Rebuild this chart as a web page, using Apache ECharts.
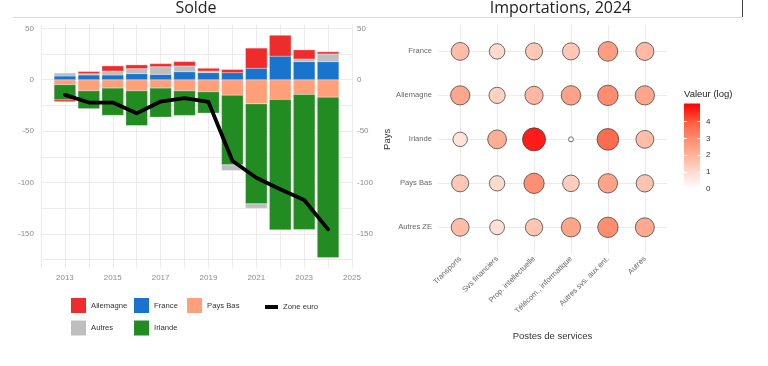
<!DOCTYPE html>
<html><head><meta charset="utf-8">
<script src="https://cdn.jsdelivr.net/npm/echarts@6/dist/echarts.min.js"></script>
<style>html,body{margin:0;padding:0;background:#fff}#c{width:768px;height:366px}</style>
</head><body><div id="c"></div>
<script>
// ---- Left panel: Solde ----
const years = [2013,2014,2015,2016,2017,2018,2019,2020,2021,2022,2023,2024];
const allemagne = [-1.7, 2.0, 4.9, 3.6, 2.9, 4.2, 2.6, 3.0, 19.6, 20.3, 8.8, 2.0];
const autres    = [2.9, 1.3, 3.9, 4.9, 7.5, 5.6, 1.6, -5.5, -4.3, 0, 2.6, 7.5];
const france    = [3.6, 4.6, 4.6, 5.9, 5.2, 7.8, 6.9, 6.9, 11.1, 22.9, 17.6, 17.6];
const paysBas   = [-4.9, -10.8, -8.2, -10.8, -8.2, -10.8, -11.8, -15.1, -23.5, -19.3, -14.4, -17.0];
const irlande   = [-14.7, -17.3, -26.4, -33.7, -28.1, -23.9, -20.6, -67.7, -97.2, -126.7, -131.2, -156.0];
const zoneEuro  = [-14.7, -22.2, -22.2, -32.7, -21.2, -18.0, -21.6, -78.8, -95.3, -106.6, -117.0, -145.5];
const soldeTicks = [-150, -100, -50, 0, 50];
const soldeGrid = [-175, -150, -125, -100, -75, -50, -25, 0, 25, 50];

// ---- Right panel: Importations 2024 ----
const countries = ['France', 'Allemagne', 'Irlande', 'Pays Bas', 'Autres ZE'];
const postes = ['Transports', 'Svs financiers', 'Prop. intellectuelle', 'Télécom., informatique', 'Autres svs. aux ent.', 'Autres'];
const impFrance    = [1.91, 1.06, 1.60, 1.57, 2.75, 1.99];
const impAllemagne = [2.50, 1.29, 2.05, 2.63, 3.18, 2.55];
const impIrlande   = [0.80, 2.31, 4.95, 0.00, 3.90, 1.91];
const impPaysBas   = [1.57, 1.03, 3.10, 1.43, 2.58, 1.69];
const impAutresZE  = [1.88, 0.89, 1.66, 2.55, 3.13, 2.42];
const colorTicks = [0, 1, 2, 3, 4];
const colorMin = 0, colorMax = 5.07;

const FONT = 'Liberation Sans, Arial, sans-serif';
const chart = echarts.init(document.getElementById('c'), null, {renderer: 'canvas'});

// manual same-sign stacking (stack order from zero outward)
const stackOrder = [
  {name: 'Pays Bas', arr: paysBas, color: '#FFA07A'},
  {name: 'Irlande', arr: irlande, color: '#228B22'},
  {name: 'France', arr: france, color: '#1874CD'},
  {name: 'Autres', arr: autres, color: '#BEBEBE'},
  {name: 'Allemagne', arr: allemagne, color: '#EE2C2C'}
];
const posBase = years.map(() => 0), negBase = years.map(() => 0);
const stacked = stackOrder.map(s => {
  const data = s.arr.map((v, i) => {
    let y0, y1;
    if (v >= 0) { y0 = posBase[i]; y1 = y0 + v; posBase[i] = y1; }
    else { y0 = negBase[i]; y1 = y0 + v; negBase[i] = y1; }
    return [years[i], y0, y1];
  });
  return {name: s.name, color: s.color, data};
});

function renderBar(params, api) {
  const x = api.value(0), y0 = api.value(1), y1 = api.value(2);
  if (y0 === y1) return null;
  const p0 = api.coord([x, y0]), p1 = api.coord([x, y1]);
  const w = api.size([0.9, 0])[0];
  return {type: 'rect',
    shape: {x: p0[0] - w / 2, y: Math.min(p0[1], p1[1]), width: w, height: Math.abs(p1[1] - p0[1])},
    style: api.style({stroke: 'rgba(255,255,255,0.6)', lineWidth: 0.5})};
}
function barSeries(s) {
  return {name: s.name, type: 'custom', xAxisIndex: 0, yAxisIndex: 0, renderItem: renderBar,
    encode: {x: 0, y: [1, 2]}, data: s.data, itemStyle: {color: s.color}, z: 2, silent: true};
}
function gridSeries(xi, yi, marks) {
  return {type: 'line', xAxisIndex: xi, yAxisIndex: yi, data: [], silent: true,
    markLine: {silent: true, z: 1, animation: false, symbol: ['none', 'none'], label: {show: false},
      lineStyle: {color: '#EBEBEB', width: 1, type: 'solid'}, emphasis: {disabled: true}, data: marks}};
}

const impRows = [impFrance, impAllemagne, impIrlande, impPaysBas, impAutresZE];
const bubbles = [];
impRows.forEach((row, r) => row.forEach((v, c) => bubbles.push([c, r, v])));

const legendBase = {padding: 0, itemWidth: 15, itemHeight: 15, selectedMode: false,
  textStyle: {fontSize: 7.7, color: '#333', fontFamily: FONT}};
const leg = (name, left, top, extra) => Object.assign({}, legendBase, {data: [{name, icon: 'rect'}], left, top}, extra || {});

const labelLeft = {fontSize: 8, color: '#8c8c8c', fontFamily: FONT};

const series = [gridSeries(0, 0, soldeGrid.map(v => ({yAxis: v})))];
stacked.forEach(s => series.push(barSeries(s)));
series.push({name: 'Zone euro', type: 'line', xAxisIndex: 0, yAxisIndex: 0,
  data: zoneEuro.map((v, i) => [years[i], v]),
  showSymbol: false, symbol: 'none', z: 5, itemStyle: {color: '#000'},
  lineStyle: {color: '#000', width: 3.8, join: 'round', cap: 'round'}});
series.push(gridSeries(1, 2, postes.map((p, i) => ({xAxis: i})).concat(countries.map((c, i) => ({yAxis: i})))));
series.push({type: 'bar', xAxisIndex: 2, yAxisIndex: 3, data: [colorMax], barWidth: '100%', silent: true, z: 2,
  itemStyle: {color: {type: 'linear', x: 0, y: 0, x2: 0, y2: 1, colorStops: [
    {offset: 0, color: '#FF0000'}, {offset: 0.25, color: '#FF6746'}, {offset: 0.5, color: '#FF9E81'},
    {offset: 0.75, color: '#FFCFBF'}, {offset: 1, color: '#FFFFFF'}]}}});
const scatterIndex = series.length;
series.push({name: 'Importations', type: 'scatter', xAxisIndex: 1, yAxisIndex: 2, data: bubbles, z: 3,
  symbol: 'circle', silent: true,
  symbolSize: d => 5.7 + 18.3 * Math.pow(Math.max(d[2], 0) / colorMax, 0.35) - 0.8,
  itemStyle: {borderColor: '#3a3a3a', borderWidth: 0.8, opacity: 0.92}});

const option = {
  animation: false,
  backgroundColor: '#fff',
  grid: [
    {left: 41, top: 24.5, width: 311, height: 243.8},
    {left: 438, top: 25, width: 229, height: 228.7},
    {left: 684, top: 103.6, width: 16, height: 85}
  ],
  xAxis: [
    {type: 'value', gridIndex: 0, min: 2012, max: 2025, interval: 1,
      axisLine: {show: false}, axisTick: {show: false},
      axisLabel: Object.assign({margin: 5, formatter: v => (v % 2 === 1 ? String(v) : '')}, labelLeft),
      splitLine: {show: true, lineStyle: {color: '#EBEBEB', width: 1}}},
    {type: 'value', gridIndex: 1, min: -0.6, max: 5.6,
      axisLine: {show: false}, axisTick: {show: false}, splitLine: {show: false},
      axisLabel: {customValues: [0, 1, 2, 3, 4, 5], rotate: 45, margin: 4, fontSize: 7.6, color: '#666', fontFamily: FONT,
        formatter: v => (Number.isInteger(v) && postes[v] ? postes[v] : '')},
      name: 'Postes de services', nameLocation: 'middle', nameGap: 78,
      nameTextStyle: {fontSize: 9.5, color: '#333', fontFamily: FONT}},
    {type: 'category', gridIndex: 2, data: ['c'], show: false}
  ],
  yAxis: [
    {type: 'value', gridIndex: 0, min: -183.4, max: 53.7,
      axisLine: {show: false}, axisTick: {show: false}, splitLine: {show: false},
      axisLabel: Object.assign({customValues: soldeTicks, margin: 7,
        formatter: v => (v % 50 === 0 ? String(v) : '')}, labelLeft)},
    {type: 'value', gridIndex: 0, min: -183.4, max: 53.7, position: 'right',
      axisLine: {show: false}, axisTick: {show: false}, splitLine: {show: false},
      axisLabel: Object.assign({customValues: soldeTicks, margin: 5,
        formatter: v => (v % 50 === 0 ? String(v) : '')}, labelLeft)},
    {type: 'value', gridIndex: 1, min: -0.6, max: 4.6, inverse: true,
      axisLine: {show: false}, axisTick: {show: false}, splitLine: {show: false},
      axisLabel: {customValues: [0, 1, 2, 3, 4], margin: 6, fontSize: 7.6, color: '#666', fontFamily: FONT,
        formatter: v => (Number.isInteger(v) && countries[v] ? countries[v] : '')},
      name: 'Pays', nameLocation: 'middle', nameRotate: 90, nameGap: 43,
      nameTextStyle: {fontSize: 9.5, color: '#333', fontFamily: FONT}},
    {type: 'value', gridIndex: 2, min: colorMin, max: colorMax, position: 'right', z: 10,
      axisLine: {show: false}, splitLine: {show: false},
      axisTick: {show: true, inside: true, length: 3, customValues: colorTicks, lineStyle: {color: '#fff', width: 1}},
      axisLabel: {customValues: colorTicks, margin: 6, fontSize: 8, color: '#333', fontFamily: FONT}},
    {type: 'value', gridIndex: 2, min: colorMin, max: colorMax, position: 'left', z: 10,
      axisLine: {show: false}, splitLine: {show: false}, axisLabel: {show: false},
      axisTick: {show: true, inside: true, length: 3, customValues: colorTicks, lineStyle: {color: '#fff', width: 1}}}
  ],
  visualMap: [{
    type: 'continuous', show: false, min: colorMin, max: colorMax, dimension: 2, seriesIndex: scatterIndex,
    inRange: {color: ['#FFFFFF', '#FFCFBF', '#FF9E81', '#FF6746', '#FF0000']}
  }],
  legend: [
    leg('Allemagne', 71, 298),
    leg('France', 134, 298),
    leg('Pays Bas', 187, 298),
    leg('Zone euro', 265, 303, {itemWidth: 13, itemHeight: 4}),
    leg('Autres', 71, 320.5),
    leg('Irlande', 134, 320.5)
  ],
  series,
  graphic: [
    {type: 'line', shape: {x1: 13, y1: 17.5, x2: 742, y2: 17.5}, style: {stroke: '#d9d9d9', lineWidth: 1}},
    {type: 'line', shape: {x1: 742.5, y1: 0, x2: 742.5, y2: 17}, style: {stroke: '#444', lineWidth: 1}},
    {type: 'text', x: 196, y: 8.5, style: {text: 'Solde', font: '16px "Open Sans", sans-serif', fill: '#222',
      align: 'center', verticalAlign: 'middle', textAlign: 'center', textVerticalAlign: 'middle'}},
    {type: 'text', x: 560.5, y: 8.5, style: {text: 'Importations, 2024', font: '16px "Open Sans", sans-serif', fill: '#222',
      align: 'center', verticalAlign: 'middle', textAlign: 'center', textVerticalAlign: 'middle'}},
    {type: 'text', x: 684, y: 94.5, style: {text: 'Valeur (log)', font: '9.5px "Liberation Sans", Arial, sans-serif', fill: '#222',
      align: 'left', verticalAlign: 'middle', textAlign: 'left', textVerticalAlign: 'middle'}}
  ]
};
chart.setOption(option);
</script>
</body></html>
